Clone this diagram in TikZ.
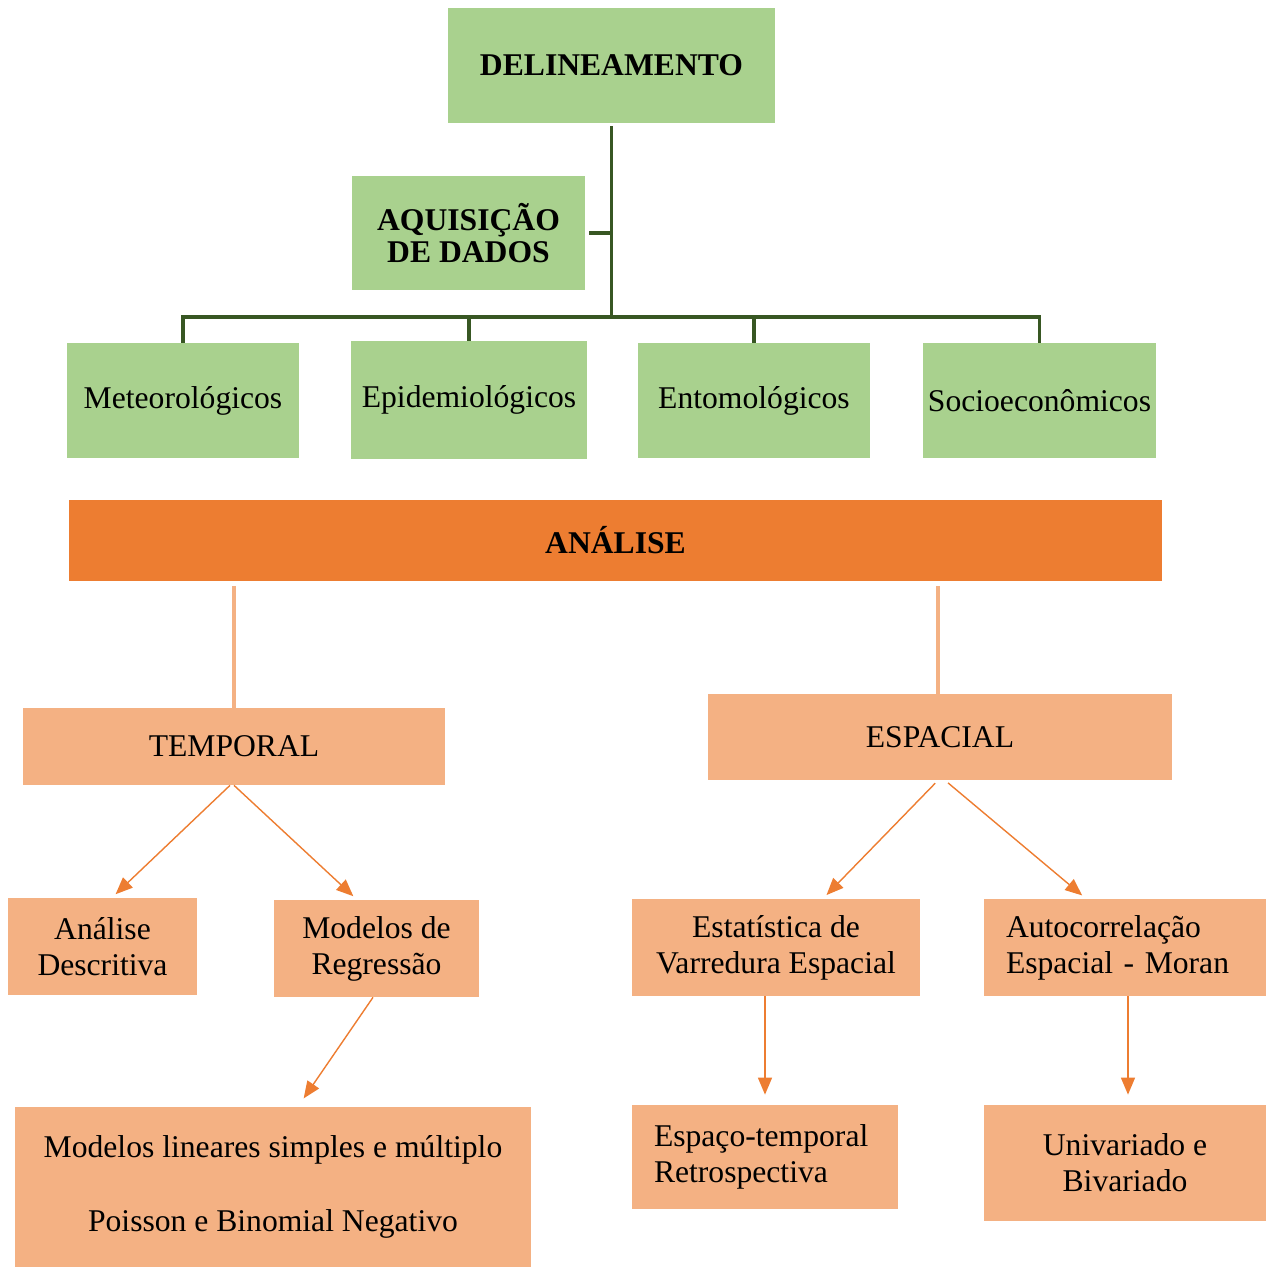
\documentclass[tikz,border=0pt]{standalone}
\usepackage{fontspec}
\setmainfont{Liberation Serif}
\usetikzlibrary{arrows.meta,calc,positioning}
\definecolor{delingreen}{RGB}{169,209,142}
\definecolor{delindark}{RGB}{56,87,35}
\definecolor{analiseorange}{RGB}{237,125,49}
\definecolor{analisepeach}{RGB}{244,177,131}
\tikzset{
 greenbox/.style={fill=delingreen,align=center,inner sep=0pt},
 peachbox/.style={fill=analisepeach,align=center,inner sep=0pt},
 treeline/.style={delindark,line width=1.9pt},
 linkline/.style={analisepeach,line width=2.1pt},
 flowarrow/.style={-{Triangle[length=0.34cm,width=0.28cm]},analiseorange,line width=0.8pt,shorten >=0.1cm},
}
\begin{document}
\begin{tikzpicture}[line cap=butt,line join=miter,font=\fontsize{18}{20.5}\selectfont]
 \useasboundingbox (0,0) rectangle (25.32,25.36);
 % top: delineamento and data groups
 \node[greenbox,minimum width=6.54cm,minimum height=2.30cm,font=\fontsize{18}{20.5}\selectfont\bfseries]
  (delin) at (12.23,24.05) {DELINEAMENTO};
 \node[greenbox,minimum width=4.66cm,minimum height=2.28cm,font=\fontsize{18}{18.5}\selectfont\bfseries]
  (aquis) at (9.37,20.70) {AQUISIÇÃO\\DE DADOS};
 \node[greenbox,minimum width=4.64cm,minimum height=2.30cm] (meteo) at (3.66,17.35) {Meteorológicos};
 \node[greenbox,minimum width=4.72cm,minimum height=2.36cm] (epid) at (9.38,17.36) {Epidemiológicos};
 \node[greenbox,minimum width=4.64cm,minimum height=2.30cm] (ento) at (15.08,17.35) {Entomológicos};
 \node[greenbox,minimum width=4.66cm,minimum height=2.30cm] (socio) at (20.79,17.35) {Socioeconômicos};
 \coordinate (hub) at (12.23,19.02);
 \draw[treeline,shorten <=0.06cm] (delin.south) -- (hub);
 \draw[treeline,shorten <=0.08cm] (aquis.east) -- (aquis.east -| hub);
 \draw[treeline] (meteo.north) |- (socio.north |- hub) -- (socio.north);
 \draw[treeline] (epid.north) -- (epid.north |- hub);
 \draw[treeline] (ento.north) -- (ento.north |- hub);
 % analise
 \node[fill=analiseorange,minimum width=21.86cm,minimum height=1.62cm,inner sep=0pt,
  font=\fontsize{18}{20.5}\selectfont\bfseries] (analise) at (12.31,14.55) {ANÁLISE};
 \node[peachbox,minimum width=8.44cm,minimum height=1.54cm] (temporal) at (4.68,10.43) {TEMPORAL};
 \node[peachbox,minimum width=9.28cm,minimum height=1.72cm] (espacial) at (18.80,10.62) {ESPACIAL};
 \draw[linkline,shorten <=0.1cm] (analise.south -| temporal.north) -- (temporal.north);
 \draw[linkline,shorten <=0.1cm] ([xshift=-0.04cm]analise.south -| espacial.north) -- ([xshift=-0.04cm]espacial.north);
 % temporal branch
 \node[peachbox,minimum width=3.78cm,minimum height=1.94cm] (descr) at (2.05,6.43) {Análise\\Descritiva};
 \node[peachbox,minimum width=4.10cm,minimum height=1.94cm] (regr) at (7.53,6.39) {Modelos de\\Regressão};
 \node[peachbox,minimum width=10.32cm,minimum height=3.20cm] (lineares) at (5.46,1.62)
  {Modelos lineares simples e múltiplo\\[0.76cm]Poisson e Binomial Negativo};
 \draw[flowarrow] ([xshift=-0.08cm]temporal.south) -- ([xshift=0.19cm]descr.north);
 \draw[flowarrow] (temporal.south) -- ([xshift=-0.39cm]regr.north);
 \draw[flowarrow,shorten >=0.2cm] ([xshift=-0.07cm]regr.south) -- ([xshift=0.5cm]lineares.north);
 % espacial branch
 \node[peachbox,minimum width=5.76cm,minimum height=1.94cm] (varred) at (15.52,6.41)
  {Estatística de\\Varredura Espacial};
 \node[peachbox,align=left,text width=4.76cm,inner xsep=0.44cm,minimum height=1.94cm] (autoc) at (22.50,6.41)
  {Autocorrelação\\Espacial - Moran};
 \node[peachbox,align=left,text width=4.44cm,inner xsep=0.44cm,minimum height=2.08cm] (retro) at (15.30,2.22)
  {Espaço-temporal\\Retrospectiva};
 \node[peachbox,minimum width=5.64cm,minimum height=2.32cm] (univ) at (22.50,2.10) {Univariado e\\Bivariado};
 \draw[flowarrow,shorten <=0.08cm] ([xshift=-0.04cm]espacial.south) -- ([xshift=0.94cm]varred.north);
 \draw[flowarrow,shorten <=0.08cm] ([xshift=0.1cm]espacial.south) -- ([xshift=-0.78cm]autoc.north);
 \draw[flowarrow,shorten >=0.2cm] (varred.south -| retro.north) -- (retro.north);
 \draw[flowarrow,shorten >=0.2cm] ([xshift=0.06cm]autoc.south) -- ([xshift=0.06cm]univ.north);
\end{tikzpicture}
\end{document}
